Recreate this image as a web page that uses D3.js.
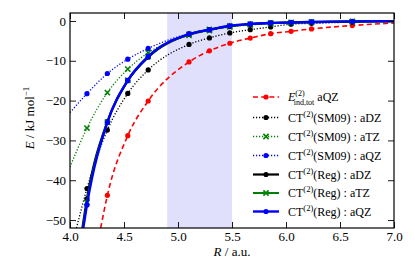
<!DOCTYPE html>
<html>
<head>
<meta charset="utf-8">
<script src="https://cdn.jsdelivr.net/npm/d3@7"></script>
<style>
  html, body { margin: 0; padding: 0; background: #fff; }
  svg { display: block; }
  svg text { font-family: "Liberation Serif", "Times New Roman", Times, serif; }
</style>
</head>
<body>
<svg id="chart" width="415" height="260"></svg>
<script>
// Separations (bohr) where the energies were computed
const R_AU = [4.157, 4.346, 4.535, 4.724, 5.102, 5.291, 5.480, 5.669, 5.858, 6.047, 6.236, 6.614];

// Energies in kJ/mol (null = off the plot)
const indTotAQZ = [null, -43.8, -28.8, -20.1, -10.3, -7.5, -5.6, -4.3, -3.2, -2.6, -2.0, -1.15];
const sm09ADZ = [-42.1, -27.4, -18.2, -12.3, -5.9, -4.25, -3.0, -2.2, -1.5, -0.8, -0.6, -0.3];
const sm09ATZ = [-26.9, -18.0, -12.1, -8.0, -3.6, -2.4, -1.5, -1.0, -0.7, -0.5, -0.35, -0.2];
const sm09AQZ = [-18.25, -13.2, -9.6, -6.9, -3.2, -2.2, -1.4, -0.9, -0.6, -0.45, -0.3, -0.15];
const regADZ = [-44.7, -25.3, -15.0, -9.1, -3.4, -2.2, -1.3, -0.8, -0.5, -0.4, -0.3, -0.15];
const regATZ = [-45.6, -25.4, -14.9, -8.9, -3.35, -2.15, -1.25, -0.8, -0.5, -0.35, -0.25, -0.1];
const regAQZ = [-46.2, -25.5, -14.9, -8.9, -3.3, -2.2, -1.2, -0.75, -0.5, -0.35, -0.25, -0.1];

// where each fitted curve enters the frame on the left and its value at R = 7
const curveStartR = [4.284, 4.06, 4.0, 4.0, 4.115, 4.12, 4.123];
const curveStartE = [-52, -52, -36.7, -23.0, -52, -52, -52];
const curveEndE = [-0.5, -0.15, -0.1, -0.05, -0.05, -0.05, -0.05];

const xTicks = [4.0, 4.5, 5.0, 5.5, 6.0, 6.5, 7.0];
const yTicks = [0, -10, -20, -30, -40, -50];
const bandRange = [4.9, 5.5];

const series = [
  { values: indTotAQZ, color: "#ff0000", dash: "5,3.2", width: 1.6, marker: "dot" },
  { values: sm09ADZ, color: "#000000", dash: "1.2,1.8", width: 1.3, marker: "dot" },
  { values: sm09ATZ, color: "#008000", dash: "1.2,1.8", width: 1.3, marker: "x" },
  { values: sm09AQZ, color: "#0000ff", dash: "1.2,1.8", width: 1.3, marker: "dot" },
  { values: regADZ, color: "#000000", dash: null, width: 2.2, marker: "dot" },
  { values: regATZ, color: "#008000", dash: null, width: 2.0, marker: "x" },
  { values: regAQZ, color: "#0000ff", dash: null, width: 2.4, marker: "dot" }
];

const margin = { top: 13, right: 21, bottom: 32, left: 70 };
const width = 415, height = 260;
const plotW = width - margin.left - margin.right;
const plotH = height - margin.top - margin.bottom;

const svg = d3.select("#chart");

const x = d3.scaleLinear().domain([4.0, 7.0]).range([0, plotW]);
const y = d3.scaleLinear().domain([-52, 2]).range([plotH, 0]);

const g = svg.append("g")
  .attr("transform", "translate(" + margin.left + "," + margin.top + ")");

g.append("defs").append("clipPath")
  .attr("id", "plot-clip")
  .append("rect")
  .attr("width", plotW)
  .attr("height", plotH);

// shaded region
g.append("rect")
  .attr("x", x(bandRange[0]))
  .attr("y", 0)
  .attr("width", x(bandRange[1]) - x(bandRange[0]))
  .attr("height", plotH)
  .attr("fill", "rgb(224,224,252)");

const line = d3.line()
  .x(d => x(d[0]))
  .y(d => y(d[1]))
  .curve(d3.curveMonotoneX);

const lines = g.append("g").attr("clip-path", "url(#plot-clip)");

function drawMarker(sel, type, color, cx, cy) {
  if (type === "x") {
    const s = 2.6;
    sel.append("path")
      .attr("d", `M${cx - s},${cy - s}L${cx + s},${cy + s}M${cx - s},${cy + s}L${cx + s},${cy - s}`)
      .attr("stroke", color)
      .attr("stroke-width", 1.6)
      .attr("fill", "none");
  } else {
    sel.append("circle")
      .attr("cx", cx)
      .attr("cy", cy)
      .attr("r", 2.6)
      .attr("fill", color);
  }
}

series.forEach((s, i) => {
  const pts = R_AU.map((r, j) => [r, s.values[j]]).filter(d => d[1] !== null);
  const curvePts = [[curveStartR[i], curveStartE[i]]].concat(pts, [[7.0, curveEndE[i]]]);

  const grp = lines.append("g");
  grp.append("path")
    .datum(curvePts)
    .attr("d", line)
    .attr("fill", "none")
    .attr("stroke", s.color)
    .attr("stroke-width", s.width)
    .attr("stroke-dasharray", s.dash);

  pts.forEach(d => drawMarker(grp, s.marker, s.color, x(d[0]), y(d[1])));
});

// axes with inward ticks on all four sides
const axisStyle = sel => {
  sel.attr("font-family", null);
  sel.select(".domain").remove();
  sel.selectAll(".tick line").attr("stroke", "#000").attr("stroke-width", 0.9);
  sel.selectAll(".tick text")
    .attr("fill", "#000")
    .style("font-size", "13px");
};

const fmtX = d3.format(".1f");
const fmtY = d => (d < 0 ? "\u2212" + Math.abs(d) : "" + d);

g.append("g")
  .attr("transform", "translate(0," + plotH + ")")
  .call(d3.axisBottom(x).tickValues(xTicks).tickFormat(fmtX).tickSizeInner(-6).tickPadding(4))
  .call(axisStyle);

g.append("g")
  .call(d3.axisTop(x).tickValues(xTicks).tickFormat("").tickSizeInner(-6))
  .call(axisStyle);

g.append("g")
  .call(d3.axisLeft(y).tickValues(yTicks).tickFormat(fmtY).tickSizeInner(-6).tickPadding(4))
  .call(axisStyle);

g.append("g")
  .attr("transform", "translate(" + plotW + ",0)")
  .call(d3.axisRight(y).tickValues(yTicks).tickFormat("").tickSizeInner(-6))
  .call(axisStyle);

// frame
g.append("rect")
  .attr("width", plotW)
  .attr("height", plotH)
  .attr("fill", "none")
  .attr("stroke", "#000")
  .attr("stroke-width", 1.2);

// axis titles
const xTitle = svg.append("text")
  .attr("x", margin.left + plotW / 2)
  .attr("y", 256)
  .attr("text-anchor", "middle")
  .style("font-size", "13px");
xTitle.append("tspan").style("font-style", "italic").text("R");
xTitle.append("tspan").text(" / a.u.");

const yTitle = svg.append("text")
  .attr("transform", "translate(34,118) rotate(-90)")
  .attr("text-anchor", "middle")
  .style("font-size", "13px");
yTitle.append("tspan").style("font-style", "italic").text("E");
yTitle.append("tspan").text(" / kJ mol");
yTitle.append("tspan").attr("dy", -5).style("font-size", "9px").text("\u22121");

// legend
const legendRows = [97, 117.5, 136.5, 155.5, 174.5, 193, 211.5];
const legend = svg.append("g");

series.forEach((s, i) => {
  const cy = legendRows[i];
  legend.append("line")
    .attr("x1", 253).attr("x2", 279)
    .attr("y1", cy).attr("y2", cy)
    .attr("stroke", s.color)
    .attr("stroke-width", s.width)
    .attr("stroke-dasharray", s.dash);
  drawMarker(legend, s.marker, s.color, 266, cy);

  const t = legend.append("text")
    .attr("x", 288)
    .attr("y", cy + 4)
    .style("font-size", "12px");
  if (i === 0) {
    t.append("tspan").style("font-style", "italic").text("E");
    t.append("tspan").attr("dy", -5.5).style("font-size", "8px").text("(2)");
    t.append("tspan").attr("dx", -11).attr("dy", 9).style("font-size", "8px").text("ind,tot");
    t.append("tspan").attr("dy", -3.5).text(" aQZ");
  } else {
    const method = i < 4 ? "(SM09)" : "(Reg)";
    const basis = ["aDZ", "aTZ", "aQZ"][(i - 1) % 3];
    t.append("tspan").text("CT");
    t.append("tspan").attr("dy", -5).style("font-size", "8.5px").text("(2)");
    t.append("tspan").attr("dy", 5).text(method + " : " + basis);
  }
});
</script>
</body>
</html>
